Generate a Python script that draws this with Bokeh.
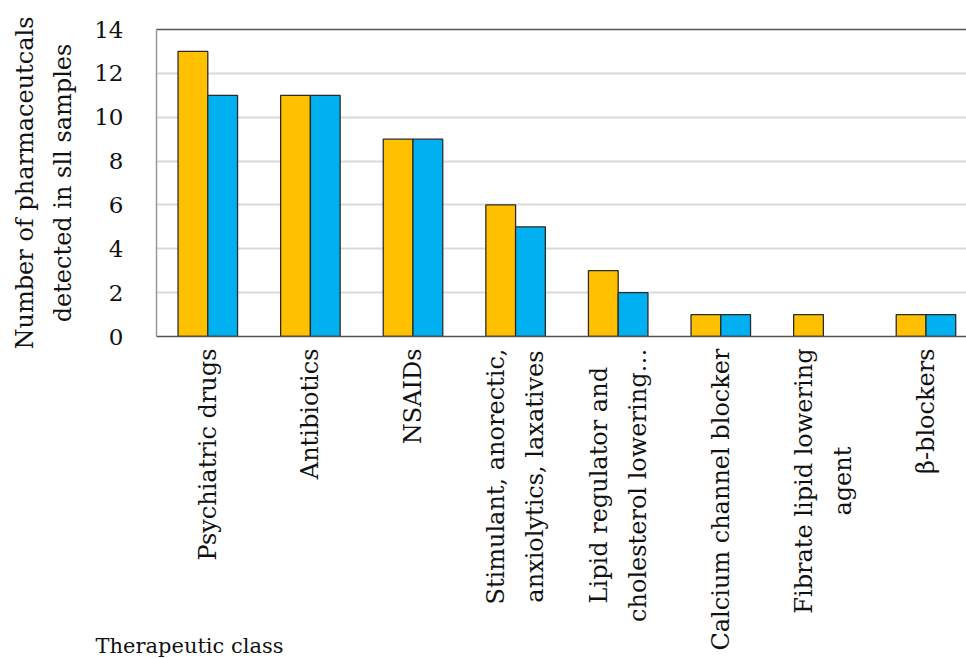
from math import pi
from bokeh.plotting import figure
from bokeh.layouts import column
from bokeh.models import FixedTicker, Range1d, Label, LinearAxis, ColumnDataSource
from bokeh.embed import file_html
from bokeh.resources import INLINE

categories = ["Psychiatric drugs", "Antibiotics", "NSAIDs",
              "Stimulant, anorectic,\nanxiolytics, laxatives",
              "Lipid regulator and\ncholesterol lowering\u2026",
              "Calcium channel blocker",
              "Fibrate lipid lowering\nagent",
              "\u03b2-blockers"]
series_a = [13, 11, 9, 6, 3, 1, 1, 1]
series_b = [11, 11, 9, 5, 2, 1, 0, 1]
y_ticks = [0, 2, 4, 6, 8, 10, 12, 14]
x_title = "Therapeutic class"
y_title = "Number of pharmaceutcals\ndetected in sll samples"

FONT = "DejaVu Serif"
TXT = "#111111"
idx = list(range(len(categories)))

W = 966
LEFT = 156           # left border of the bar frame
TOP_H = 348          # height of the bar figure
BOT_H = 658 - TOP_H  # height of the label strip
X0, X1 = -0.5, 7.395
ppu = (W - LEFT) / (X1 - X0)

p = figure(width=W, height=TOP_H, output_backend="svg", toolbar_location=None,
           x_range=Range1d(X0, X1), y_range=Range1d(0, 14),
           min_border_left=LEFT, min_border_top=29, min_border_bottom=TOP_H - 336,
           min_border_right=0)
p.frame_align = False

src_a = ColumnDataSource(dict(x=[i - 0.145 for i, v in zip(idx, series_a) if v > 0],
                              top=[v for v in series_a if v > 0]))
src_b = ColumnDataSource(dict(x=[i + 0.145 for i, v in zip(idx, series_b) if v > 0],
                              top=[v for v in series_b if v > 0]))
p.vbar(x="x", top="top", width=0.29, bottom=0, source=src_a,
       fill_color="#FFC000", line_color="#2b2b2b", line_width=1.3)
p.vbar(x="x", top="top", width=0.29, bottom=0, source=src_b,
       fill_color="#00B0F0", line_color="#2b2b2b", line_width=1.3)

p.outline_line_color = None
p.xgrid.visible = False
p.ygrid.ticker = FixedTicker(ticks=y_ticks)
p.ygrid.grid_line_color = "#D9D9D9"
p.ygrid.grid_line_width = 2

top_axis = LinearAxis(ticker=FixedTicker(ticks=[]), axis_line_color="#3a3a3a", axis_line_width=1.5,
                      major_tick_line_color=None, minor_tick_line_color=None)
p.add_layout(top_axis, "above")

p.xaxis.ticker = FixedTicker(ticks=[])
p.xaxis.major_tick_line_color = None
p.xaxis.minor_tick_line_color = None
p.xaxis.axis_line_color = "#555555"
p.xaxis.axis_line_width = 1.5

p.yaxis.ticker = FixedTicker(ticks=y_ticks)
p.yaxis.major_label_text_font = FONT
p.yaxis.major_label_text_font_size = "23px"
p.yaxis.major_label_text_line_height = 1.0
p.yaxis.major_label_text_color = TXT
p.yaxis.major_label_standoff = 27
p.yaxis.major_tick_line_color = None
p.yaxis.minor_tick_line_color = None
p.yaxis.axis_line_color = "#999999"
p.yaxis.axis_line_width = 1.5
p.yaxis.axis_label = y_title
p.yaxis.axis_label_text_font = FONT
p.yaxis.axis_label_text_font_size = "24px"
p.yaxis.axis_label_text_line_height = 1.35
p.yaxis.axis_label_text_font_style = "normal"
p.yaxis.axis_label_text_color = TXT
p.yaxis.axis_label_standoff = 14

# label strip below, sharing the same horizontal scale
q = figure(width=W, height=BOT_H, output_backend="svg", toolbar_location=None,
           x_range=Range1d(X0 - LEFT / ppu, X1), y_range=Range1d(BOT_H, 0),
           x_axis_type=None, y_axis_type=None,
           min_border_left=0, min_border_top=0, min_border_bottom=0, min_border_right=0)
q.frame_align = False
q.outline_line_color = None
q.xgrid.visible = False
q.ygrid.visible = False

for i, c in zip(idx, categories):
    q.add_layout(Label(x=i, y=0, x_units="data", y_units="data", angle=pi / 2,
                       anchor="center_right", text_align="center",
                       text=c, text_font=FONT, text_font_size="24px", text_color=TXT,
                       text_line_height=1.4))

q.add_layout(Label(x=X0 - (LEFT - 95) / ppu, y=645 - TOP_H, x_units="data", y_units="data",
                   text=x_title, text_font=FONT, text_font_size="21px",
                   text_color=TXT, text_baseline="middle"))

open("out.html", "w").write(file_html(column(p, q, spacing=0), INLINE))
